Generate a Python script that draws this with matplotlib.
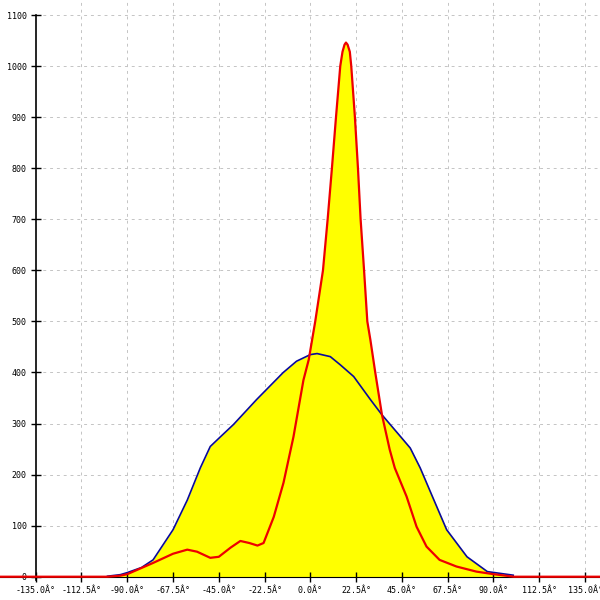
import numpy as np
import matplotlib
matplotlib.use("Agg")
import matplotlib.pyplot as plt

# blue series (angle in degrees, value)
blue_x = [-99.7, -93.4, -90.0, -83.0, -77.3, -67.5, -60.5, -54.1, -49.2, -44.2,
          -37.8, -26.4, -13.3, -6.8, 0.0, 3.3, 9.8, 14.7, 21.3, 29.5,
          35.2, 44.2, 49.1, 54.0, 60.0, 67.0, 77.0, 87.0, 99.7]
blue_y = [1, 4, 8, 18, 33, 92, 150, 213, 255, 274,
          298, 347, 400, 422, 435, 437, 431, 415, 392, 347,
          317, 275, 252, 213, 157, 92, 39, 10, 3]

# red series
red_x = [-160.0, -99.7, -93.4, -90.0, -77.3, -67.5, -60.5, -55.7, -49.2, -45.0,
         -39.2, -34.4, -30.0, -26.0, -23.0, -18.0, -13.2, -8.3, -3.4, -0.8,
         2.4, 6.2, 8.5, 10.6, 12.6, 14.7, 15.8, 16.8, 17.5, 18.3,
         19.4, 20.1, 21.9, 23.4, 24.7, 26.4, 28.0, 29.5, 31.9, 35.2,
         39.0, 41.5, 47.3, 52.2, 57.1, 63.5, 71.8, 81.6, 90.0, 100.0,
         150.0]
red_y = [0, 0, 2, 5, 27, 45, 53, 49, 37, 39,
         57, 70, 66, 61, 66, 117, 184, 274, 385, 425,
         500, 600, 700, 800, 900, 1000, 1028, 1042, 1046, 1042,
         1028, 1000, 900, 800, 700, 600, 500, 464, 400, 317,
         249, 213, 157, 98, 59, 33, 20, 10, 5, 0,
         0]

xticks = [-135.0, -112.5, -90.0, -67.5, -45.0, -22.5, 0.0, 22.5, 45.0, 67.5, 90.0, 112.5, 135.0]
yticks = [0, 100, 200, 300, 400, 500, 600, 700, 800, 900, 1000, 1100]

fig = plt.figure(figsize=(6, 6), dpi=100)
ax = fig.add_axes([0, 0, 1, 1])
ax.set_xlim(-152.55, 142.37)
ax.set_ylim(-45.6, 1129.4)
ax.patch.set_alpha(0)

# grid lines
for yv in yticks[1:]:
    ax.plot([-135, 142.37], [yv, yv], color="#c4c4c4", lw=0.7,
            ls=(0, (3, 4)), zorder=1)
for xv in xticks[1:]:
    ax.plot([xv, xv], [0, 1129.4], color="#c4c4c4", lw=0.7,
            ls=(0, (3, 4)), zorder=1)

ax.fill_between(blue_x, blue_y, 0, color="#ffff00", lw=0, zorder=1.5)
ax.fill_between(red_x, red_y, 0, color="#ffff00", lw=0, zorder=1.5)
ax.plot(blue_x, blue_y, color="#0a0a9a", lw=1.2, zorder=3)
ax.plot(red_x, red_y, color="#ee0000", lw=1.6, zorder=3.1)

for s in ["top", "right"]:
    ax.spines[s].set_visible(False)
ax.spines["left"].set_position(("data", -135))
ax.spines["bottom"].set_position(("data", 0))
ax.spines["left"].set_bounds(-6, 1100)
ax.spines["left"].set_linewidth(1.2)

ax.set_xticks(xticks)
ax.set_xticklabels([f"{v:.1f}Â°" for v in xticks])
ax.set_yticks(yticks)
ax.set_yticklabels([str(v) for v in yticks])
ax.tick_params(axis="both", direction="inout", length=7, width=1.0,
               labelsize=6, colors="black")
ax.tick_params(axis="x", pad=3)
ax.tick_params(axis="y", pad=3)
for lab in ax.get_xticklabels() + ax.get_yticklabels():
    lab.set_family("DejaVu Sans Mono")

fig.savefig("out.png", dpi=100)
